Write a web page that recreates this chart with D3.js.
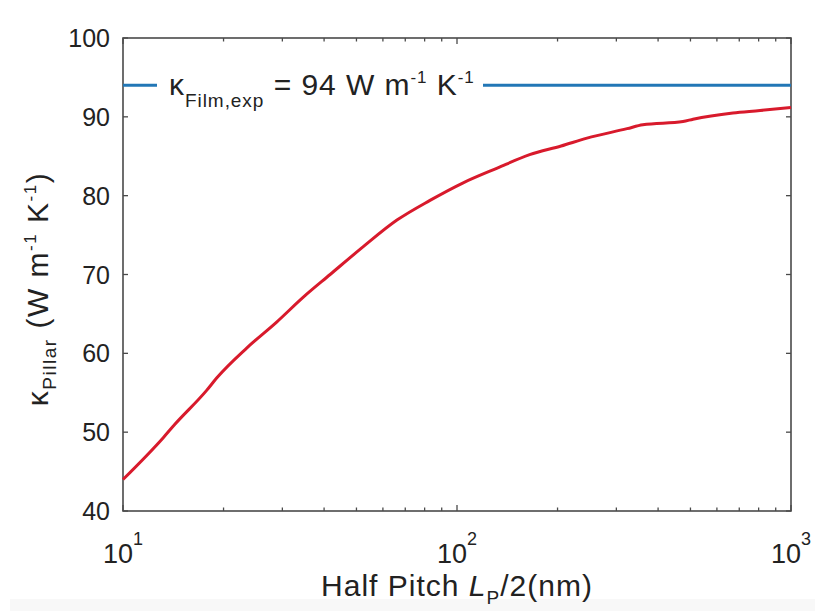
<!DOCTYPE html>
<html><head><meta charset="utf-8">
<script src="https://cdn.jsdelivr.net/npm/d3@7"></script>
<style>body{margin:0;background:#fff}svg{display:block}text{font-family:"Liberation Sans",Arial,sans-serif;fill:#222}</style>
</head><body>
<script>
// Data
const halfPitch = [10, 13.2, 14.3, 17.8, 19.1, 23.5, 28.9, 34.6, 41.7, 52.3, 66.1, 83.0, 104, 132, 165, 205, 245, 323, 360, 475, 509, 670, 808, 1000];
const kPillar   = [44.0, 49.3, 51.0, 55.3, 56.9, 60.7, 64.0, 67.1, 70.0, 73.5, 76.9, 79.4, 81.6, 83.5, 85.2, 86.3, 87.3, 88.5, 89.0, 89.4, 89.7, 90.5, 90.8, 91.2];
const kFilmExp = 94;
const yTicks = [40, 50, 60, 70, 80, 90, 100];
const xMajor = [10, 100, 1000];
const xMajorExp = ["1", "2", "3"];
const xMinor = [20,30,40,50,60,70,80,90,200,300,400,500,600,700,800,900];

const W = 815, H = 615;
const L = 123, R = 791, T = 38, B = 511;
const svg = d3.select("body").append("svg").attr("width", W).attr("height", H);
svg.append("rect").attr("x",0).attr("y",0).attr("width",W).attr("height",H).attr("fill","#fff");
svg.append("rect").attr("x",10).attr("y",599).attr("width",805).attr("height",12).attr("fill","#f8f8f8");

const x = d3.scaleLog().domain([10, 1000]).range([L, R]);
const y = d3.scaleLinear().domain([40, 100]).range([B, T]);

const axisColor = "#4a4a4a";
const g = svg.append("g");

yTicks.forEach(v => {
  g.append("line").attr("x1", L).attr("x2", L+5).attr("y1", y(v)).attr("y2", y(v)).attr("stroke", axisColor).attr("stroke-width", 1.3);
  g.append("line").attr("x1", R).attr("x2", R-5).attr("y1", y(v)).attr("y2", y(v)).attr("stroke", axisColor).attr("stroke-width", 1.3);
  g.append("text").attr("x", 110).attr("y", y(v)+9).attr("text-anchor","end").attr("font-size", 25).text(v);
});
xMajor.forEach(v => {
  g.append("line").attr("x1", x(v)).attr("x2", x(v)).attr("y1", B).attr("y2", B-6).attr("stroke", axisColor).attr("stroke-width", 1.3);
  g.append("line").attr("x1", x(v)).attr("x2", x(v)).attr("y1", T).attr("y2", T+6).attr("stroke", axisColor).attr("stroke-width", 1.3);
});
xMinor.forEach(v => {
  g.append("line").attr("x1", x(v)).attr("x2", x(v)).attr("y1", B).attr("y2", B-3.5).attr("stroke", axisColor).attr("stroke-width", 1.3);
  g.append("line").attr("x1", x(v)).attr("x2", x(v)).attr("y1", T).attr("y2", T+3.5).attr("stroke", axisColor).attr("stroke-width", 1.3);
});
xMajor.forEach((v, i) => {
  const t = g.append("text").attr("x", x(v)).attr("y", 563).attr("text-anchor","middle").attr("font-size", 27);
  t.append("tspan").text("10");
  t.append("tspan").attr("font-size", 18).attr("dy", -18).text(xMajorExp[i]);
});

g.append("rect").attr("x", L).attr("y", T).attr("width", R-L).attr("height", B-T)
  .attr("fill","none").attr("stroke", axisColor).attr("stroke-width", 1.6);

// reference line with label
svg.append("line").attr("x1", x(10)).attr("x2", 157).attr("y1", y(kFilmExp)).attr("y2", y(kFilmExp))
  .attr("stroke", "#2277b6").attr("stroke-width", 3);
svg.append("line").attr("x1", 483).attr("x2", x(1000)).attr("y1", y(kFilmExp)).attr("y2", y(kFilmExp))
  .attr("stroke", "#2277b6").attr("stroke-width", 3);
const lt = svg.append("text").attr("x", 169).attr("y", y(kFilmExp)+10).attr("font-size", 30).attr("letter-spacing", 0.95);
lt.append("tspan").text("κ");
lt.append("tspan").attr("font-size", 19).attr("dy", 12).text("Film,exp");
lt.append("tspan").attr("dy", -12).text(" = " + kFilmExp + " W m");
lt.append("tspan").attr("font-size", 17).attr("dy", -12).text("-1");
lt.append("tspan").attr("dy", 12).text(" K");
lt.append("tspan").attr("font-size", 17).attr("dy", -12).text("-1");

// curve
const line = d3.line().curve(d3.curveMonotoneX).x((d,i) => x(halfPitch[i])).y(d => y(d));
svg.append("path").datum(kPillar).attr("d", line).attr("fill","none")
  .attr("stroke", "#d81a2c").attr("stroke-width", 3).attr("stroke-linejoin","round");

// y label
const yl = svg.append("text").attr("transform", "translate(48,289) rotate(-90)").attr("text-anchor","middle").attr("font-size", 30).attr("letter-spacing", 1.5);
yl.append("tspan").text("κ");
yl.append("tspan").attr("font-size", 19).attr("dy", 8).text("Pillar");
yl.append("tspan").attr("dy", -8).text(" (W m");
yl.append("tspan").attr("font-size", 17).attr("dy", -12).text("-1");
yl.append("tspan").attr("dy", 12).text(" K");
yl.append("tspan").attr("font-size", 17).attr("dy", -12).text("-1");
yl.append("tspan").attr("dy", 12).text(")");

// x label
const xl = svg.append("text").attr("x", 457).attr("y", 596).attr("text-anchor","middle").attr("font-size", 30).attr("letter-spacing", 1);
xl.append("tspan").text("Half Pitch ");
xl.append("tspan").attr("font-style","italic").text("L");
xl.append("tspan").attr("font-size", 19).attr("dy", 8).text("P");
xl.append("tspan").attr("dy", -8).text("/2(nm)");
</script>
</body></html>
